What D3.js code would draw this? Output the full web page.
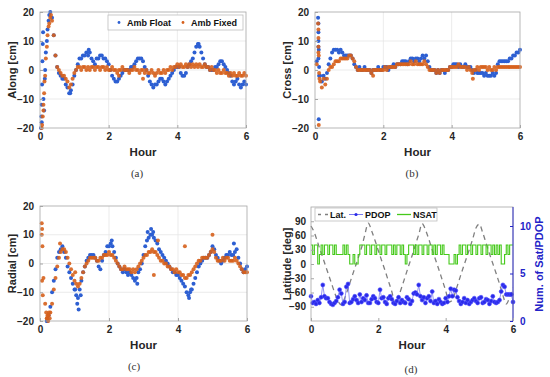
<!DOCTYPE html>
<html>
<head>
<meta charset="utf-8">
<script src="https://cdn.jsdelivr.net/npm/d3@7"></script>
<style>
body { margin: 0; background: #fff; }
text { font-family: "Liberation Sans", Arial, sans-serif; }
</style>
</head>
<body>
<div class="fig"></div>
<script>
// sampling grid (hours)
const hours = d3.range(1, 121).map(i => +(i * 0.05).toFixed(2));   // 0.05 .. 6.00
const hoursD = d3.range(0, 121).map(i => +(i * 0.05).toFixed(2));  // 0 .. 6.00
const hoursLat = d3.range(0, 61).map(i => +(i * 0.1).toFixed(1));  // 0 .. 6.0

const hourTicks = [0, 2, 4, 6];
const cmTicks = [-20, -10, 0, 10, 20];
const latTicks = [-90, -60, -30, 0, 30, 60, 90];
const satTicks = [0, 5, 10];
const legendAB = ['Amb Float', 'Amb Fixed'];
const legendD = ['Lat.', 'PDOP', 'NSAT'];

// (a) along-track [cm]
const alongFloat = [
  -18,-10,0,10,17,20,18,12,5,1,
  -1,-2,-3,-3,-5,-6,-8,-7,-5,-2,
  0,2,4,4,5,5,6,5,6,4,
  3,2,4,4,5,5,4,4,3,2,
  0,-2,-3,-4,-4,-3,-2,-1,0,0,
  0,0,1,1,2,3,4,4,4,3,
  1,0,-2,-4,-5,-6,-5,-5,-4,-3,
  -3,-4,-5,-4,-3,-2,-1,0,1,1,
  1,-1,-2,-2,-1,1,2,3,4,6,
  8,9,8,6,4,2,1,1,0,0,
  0,1,1,2,3,3,2,1,0,-1,
  -2,-4,-5,-4,-3,-5,-6,-5,-4,-5];
const alongFixed = [
  -20,-12,-2,8,15,18,17,12,5,1,
  0,-1,-2,-2,-3,-4,-6,-5,-3,-1,
  0,1,1,0,1,1,0,1,0,1,
  1,0,1,1,0,1,1,0,1,0,
  0,1,0,0,-1,0,0,1,0,0,
  0,-1,0,0,1,0,0,-1,0,0,
  -1,0,-1,-1,0,-1,-2,-1,0,-1,
  -1,0,-1,0,0,1,0,1,1,2,
  1,2,1,1,2,1,2,1,2,1,
  2,1,2,1,1,2,1,1,0,1,
  0,0,-1,0,-1,-1,0,-1,-1,-2,
  -1,-2,-1,-2,-2,-1,-2,-2,-1,-2];
const alongFloatStart = [[0.03,-20],[0.04,-16],[0.05,-12],[0.06,-5],[0.07,3],[0.08,9],[0.09,13],[0.12,-14],[0.14,-3],[0.17,6],[0.22,14],[0.27,19],[0.88,-8],[1.42,7],[4.62,9]];
const alongFixedStart = [[0.06,-19],[0.08,-16],[0.1,-14],[0.12,-8],[0.13,-4],[0.17,4],[0.22,12],[0.27,16],[0.32,19],[3.0,-3],[2.3,-2]];

// (b) cross-track [cm]
const crossFloat = [
  3,8,-2,-4,-2,-3,-1,2,4,6,
  7,7,7,6,7,6,5,5,5,5,
  5,4,2,1,0,1,0,0,1,0,
  0,0,-1,0,0,0,1,0,0,1,
  1,1,0,1,1,2,1,2,2,2,
  3,3,3,2,3,4,4,3,4,4,
  3,4,5,4,5,3,1,0,0,0,
  -1,0,-1,0,0,-1,0,0,1,1,
  2,2,2,1,2,1,1,2,1,1,
  1,0,-1,0,-1,-1,-1,-1,-2,-1,
  -2,-2,-2,-1,-2,-1,2,3,3,3,
  3,3,3,4,4,5,5,6,6,7];
const crossFixed = [
  2,6,-4,-6,-3,-5,-3,0,1,1,
  2,3,3,3,4,4,4,4,4,5,
  5,4,3,1,0,0,0,0,0,0,
  0,0,-1,0,0,0,0,0,0,0,
  1,0,1,1,1,1,1,2,2,2,
  2,2,2,2,2,3,2,2,3,2,
  2,2,2,3,2,1,0,0,0,0,
  -1,0,-1,0,0,0,0,0,1,1,
  1,1,1,2,1,1,1,1,0,1,
  0,-1,0,0,1,0,1,1,1,1,
  0,1,0,0,1,0,1,1,1,1,
  1,1,1,1,1,1,1,1,1,1];
const crossFloatStart = [[0.09,18],[0.1,16],[0.1,13],[0.1,10],[0.11,7],[0.1,4],[0.11,-17],[0.12,-2],[0.12,1]];
const crossFixedStart = [[0.09,16],[0.1,14],[0.1,11],[0.1,8],[0.11,5],[0.11,-19],[0.12,-1],[0.13,-3],[4.62,-3],[1.7,-2]];

// (c) radial [cm]
const radialFloat = [
  null,null,null,-20,-18,-15,-10,-6,-2,2,
  4,5,6,4,2,-1,-3,-5,-7,-9,
  -11,-12,-9,-6,-3,-1,1,2,3,3,
  3,2,1,-1,-2,1,3,4,6,6,
  7,6,4,2,0,-1,-2,-3,-2,-3,
  -4,-3,-4,-5,-6,-5,-3,-2,0,3,
  6,8,9,10,10,9,8,7,5,4,
  3,2,1,0,-1,-2,-3,-3,-4,-4,
  -5,-6,-7,-8,-10,-11,-10,-9,-7,-5,
  -3,-1,0,1,2,2,2,3,4,6,
  5,3,2,1,0,1,2,3,3,4,
  3,3,4,5,2,0,-2,-3,-2,-1];
const radialFixed = [
  10,-5,-14,-19,-18,-17,-14,-9,-5,-1,
  2,4,5,5,4,2,0,-2,-4,-6,
  -7,-8,-7,-5,-3,-1,0,1,2,2,
  2,2,1,1,2,2,3,3,3,4,
  3,3,2,1,0,-1,-2,-2,-1,-2,
  -2,-2,-3,-2,-3,-2,-1,0,1,2,
  3,3,4,4,5,4,4,3,2,1,
  1,0,0,-1,-1,-2,-2,-3,-2,-3,
  -3,-4,-4,-5,-5,-4,-4,-3,-2,-1,
  0,1,1,2,2,2,2,3,4,5,
  4,2,1,1,1,2,1,2,2,1,
  1,1,2,1,0,-1,-2,-3,-3,-3];
const radialFloatStart = [[0.2,-20],[0.22,-19],[1.02,-9],[1.08,-14],[1.12,-16],[1.18,-11],[3.12,11],[3.22,12],[3.28,11],[4.32,-12],[4.38,-9],[2.08,8],[2.82,-7],[5.62,7]];
const radialFixedStart = [[0.05,14],[0.06,12],[0.07,6],[0.06,-6],[0.08,-11],[0.18,-17],[0.2,-19],[0.22,-18],[0.24,-20],[0.26,-17],[0.28,-19],[5.0,10],[4.2,6],[3.3,-4],[3.42,8],[0.58,7],[1.02,-3]];

// (d) satellite latitude [deg], NSAT and PDOP
const latitude = [
  80,66,45,24,3,-18,-39,-60,-78,-86,
  -72,-52,-30,-9,12,34,62,86,70,50,
  28,7,-14,-36,-58,-84,-68,-48,-26,-4,
  17,40,62,85,72,52,30,9,-12,-34,
  -56,-80,-76,-56,-34,-12,9,30,52,76,
  84,66,44,22,1,-20,-42,-66,-84,-70,
  -50];
const nsat = [
  8,7,8,8,6,7,8,7,8,8,
  7,8,8,7,8,7,7,7,7,8,
  7,8,7,6,6,7,6,6,7,8,
  8,8,7,8,8,7,8,8,7,8,
  8,7,8,8,7,8,8,8,7,8,
  7,8,8,7,8,7,6,7,8,8,
  8,7,8,7,8,8,7,8,8,7,
  8,8,7,8,7,8,8,7,8,7,
  7,7,6,6,6,7,6,7,8,7,
  8,8,7,8,8,7,8,8,7,8,
  8,7,8,8,7,8,8,7,8,7,
  8,7,8,6,6,7,8,7,8,8,
  8];
const pdop = [
  2.6,1.9,2.0,1.8,2.2,1.9,2.5,3.8,2.6,2.4,
  2.4,2.0,1.8,1.7,1.9,2.1,2.5,3.3,2.9,1.8,
  2.0,3.6,3.9,1.9,2.0,2.3,2.6,2.2,1.9,2.8,
  2.0,2.4,2.2,2.7,1.9,1.9,2.3,2.6,2.4,2.0,
  1.9,3.3,2.4,2.5,2.0,1.8,2.4,2.6,2.3,1.9,
  1.8,2.1,2.5,1.9,2.2,2.0,1.9,2.5,2.3,1.8,
  2.1,2.9,3.0,2.8,3.8,2.6,2.2,2.5,1.9,2.4,
  2.6,2.1,3.1,1.9,2.1,1.8,2.3,2.0,1.8,1.9,
  2.4,2.0,2.6,3.4,2.6,3.3,3.2,2.5,2.1,1.8,
  2.0,2.4,1.9,2.2,1.8,2.0,2.2,2.4,2.1,1.9,
  2.4,2.5,1.9,2.0,2.3,2.2,1.8,2.1,2.6,2.0,
  1.9,2.0,2.2,3.1,3.8,3.6,2.8,2.8,2.8,2.8,
  2.0];

const floatColor = '#2d5fd2';
const fixedColor = '#d6601c';
const boxColor = '#a6a6a6';
const tickColor = '#262626';
const blueAxis = '#2323c8';

const svg = d3.select('.fig')
  .append('svg')
  .attr('width', 550)
  .attr('height', 377)
  .style('background', '#fff');

function styleAxis(g, color) {
  g.select('.domain').remove();
  g.selectAll('line').attr('stroke', color || boxColor);
  g.selectAll('text')
    .attr('font-size', '10px')
    .attr('font-weight', 'bold')
    .attr('fill', color || tickColor)
    .style('font-family', '"Liberation Sans", Arial, sans-serif');
}

function toPairs(vals, hs) {
  return vals.map((v, i) => [hs[i], v]).filter(d => d[1] !== null);
}

function scatterPanel(p) {
  const x = d3.scaleLinear().domain([0, 6]).range([p.x0, p.x1]);
  const y = d3.scaleLinear().domain([-20, 20]).range([p.y1, p.y0]);
  const g = svg.append('g');

  // grid
  g.selectAll('line.gx').data(hourTicks.slice(1, -1)).enter().append('line')
    .attr('x1', d => x(d)).attr('x2', d => x(d))
    .attr('y1', p.y0).attr('y2', p.y1)
    .attr('stroke', '#e6e6e6').attr('stroke-width', 0.8);
  g.selectAll('line.gy').data(cmTicks.slice(1, -1)).enter().append('line')
    .attr('x1', p.x0).attr('x2', p.x1)
    .attr('y1', d => y(d)).attr('y2', d => y(d))
    .attr('stroke', '#e6e6e6').attr('stroke-width', 0.8);

  const fl = toPairs(p.float, hours).concat(p.floatStart);
  const fx = toPairs(p.fixed, hours).concat(p.fixedStart);

  g.selectAll('circle.fl').data(fl).enter().append('circle')
    .attr('cx', d => x(d[0])).attr('cy', d => y(d[1]))
    .attr('r', 2).attr('fill', floatColor);
  g.selectAll('circle.fx').data(fx).enter().append('circle')
    .attr('cx', d => x(d[0])).attr('cy', d => y(d[1]))
    .attr('r', 2).attr('fill', fixedColor).attr('opacity', 0.9);

  g.append('rect')
    .attr('x', p.x0).attr('y', p.y0)
    .attr('width', p.x1 - p.x0).attr('height', p.y1 - p.y0)
    .attr('fill', 'none').attr('stroke', boxColor).attr('stroke-width', 0.8);

  g.append('g').attr('transform', `translate(0,${p.y1})`)
    .call(d3.axisBottom(x).tickValues(hourTicks).tickSize(-3).tickPadding(5).tickFormat(d3.format('d')))
    .call(styleAxis);
  g.append('g').attr('transform', `translate(${p.x0},0)`)
    .call(d3.axisLeft(y).tickValues(cmTicks).tickSize(-3).tickPadding(6).tickFormat(d3.format('d')))
    .call(styleAxis);

  g.append('text')
    .attr('transform', `translate(${p.labelX},${(p.y0 + p.y1) / 2}) rotate(-90)`)
    .attr('text-anchor', 'middle').attr('dominant-baseline', 'central')
    .attr('font-size', '11px').attr('font-weight', 'bold').attr('fill', tickColor)
    .text(p.label);
  g.append('text')
    .attr('x', (p.x0 + p.x1) / 2).attr('y', p.y1 + 24)
    .attr('text-anchor', 'middle').attr('dominant-baseline', 'central')
    .attr('font-size', '11.5px').attr('font-weight', 'bold').attr('fill', tickColor)
    .text('Hour');
  g.append('text')
    .attr('x', p.capX).attr('y', p.y1 + 45)
    .attr('text-anchor', 'middle').attr('dominant-baseline', 'central')
    .attr('font-size', '11px').attr('fill', '#333')
    .style('font-family', '"Liberation Serif", "Times New Roman", serif')
    .text(p.caption);
  return g;
}

const ga = scatterPanel({x0: 40, x1: 246, y0: 12, y1: 128, label: 'Along [cm]', labelX: 12,
  caption: '(a)', capX: 137, float: alongFloat, fixed: alongFixed,
  floatStart: alongFloatStart, fixedStart: alongFixedStart});
scatterPanel({x0: 315, x1: 520, y0: 12, y1: 128, label: 'Cross [cm]', labelX: 287,
  caption: '(b)', capX: 412, float: crossFloat, fixed: crossFixed,
  floatStart: crossFloatStart, fixedStart: crossFixedStart});
scatterPanel({x0: 40, x1: 247, y0: 206, y1: 321, label: 'Radial [cm]', labelX: 12,
  caption: '(c)', capX: 134, float: radialFloat, fixed: radialFixed,
  floatStart: radialFloatStart, fixedStart: radialFixedStart});

// legend (a)
const lg = ga.append('g');
lg.append('rect').attr('x', 108).attr('y', 15).attr('width', 135).attr('height', 15)
  .attr('fill', '#fff').attr('stroke', '#bdbdbd').attr('stroke-width', 0.8);
lg.selectAll('circle').data(legendAB).enter().append('circle')
  .attr('cx', (d, i) => 119 + i * 64).attr('cy', 22.5).attr('r', 1.4)
  .attr('fill', (d, i) => i == 0 ? floatColor : fixedColor);
lg.selectAll('text').data(legendAB).enter().append('text')
  .attr('x', (d, i) => 127 + i * 64).attr('y', 22.5)
  .attr('dominant-baseline', 'central')
  .attr('font-size', '9px').attr('font-weight', 'bold').attr('fill', '#111')
  .text(d => d);

// (d)
const dp = {x0: 311, x1: 513, y0: 207, y1: 321};
const xd = d3.scaleLinear().domain([0, 6]).range([dp.x0, dp.x1]);
const yl = d3.scaleLinear().domain([-120, 120]).range([dp.y1, dp.y0]);
const yr = d3.scaleLinear().domain([0, 12]).range([dp.y1, dp.y0]);
const gd = svg.append('g');

gd.append('path')
  .datum(latitude.map((v, i) => [hoursLat[i], v]))
  .attr('d', d3.line().x(d => xd(d[0])).y(d => yl(d[1])).curve(d3.curveMonotoneX))
  .attr('fill', 'none').attr('stroke', '#7f7f7f').attr('stroke-width', 1.3)
  .attr('stroke-dasharray', '5,4');

gd.append('path')
  .datum(pdop.map((v, i) => [hoursD[i], v]))
  .attr('d', d3.line().x(d => xd(d[0])).y(d => yr(d[1])))
  .attr('fill', 'none').attr('stroke', '#7a7af0').attr('stroke-width', 0.8);
gd.selectAll('circle.pd').data(pdop).enter().append('circle')
  .attr('cx', (d, i) => xd(hoursD[i])).attr('cy', d => yr(d))
  .attr('r', 2).attr('fill', '#2a2ae8').attr('stroke', '#4b4bff').attr('stroke-width', 0.6);

gd.append('path')
  .datum(nsat.map((v, i) => [hoursD[i], v]))
  .attr('d', d3.line().x(d => xd(d[0])).y(d => yr(d[1])).curve(d3.curveStepAfter))
  .attr('fill', 'none').attr('stroke', '#45c91a').attr('stroke-width', 1.1);

gd.append('rect')
  .attr('x', dp.x0).attr('y', dp.y0)
  .attr('width', dp.x1 - dp.x0).attr('height', dp.y1 - dp.y0)
  .attr('fill', 'none').attr('stroke', boxColor).attr('stroke-width', 0.8);
gd.append('line').attr('x1', dp.x1).attr('x2', dp.x1).attr('y1', dp.y0).attr('y2', dp.y1)
  .attr('stroke', blueAxis).attr('stroke-width', 0.9);

gd.append('g').attr('transform', `translate(0,${dp.y1})`)
  .call(d3.axisBottom(xd).tickValues(hourTicks).tickSize(-3).tickPadding(5).tickFormat(d3.format('d')))
  .call(styleAxis);
gd.append('g').attr('transform', `translate(${dp.x0},0)`)
  .call(d3.axisLeft(yl).tickValues(latTicks).tickSize(-3).tickPadding(5).tickFormat(d3.format('d')))
  .call(styleAxis);
gd.append('g').attr('transform', `translate(${dp.x1},0)`)
  .call(d3.axisRight(yr).tickValues(satTicks).tickSize(-3).tickPadding(7).tickFormat(d3.format('d')))
  .call(g => styleAxis(g, blueAxis));

gd.append('text')
  .attr('transform', `translate(287,${(dp.y0 + dp.y1) / 2}) rotate(-90)`)
  .attr('text-anchor', 'middle').attr('dominant-baseline', 'central')
  .attr('font-size', '11px').attr('font-weight', 'bold').attr('fill', tickColor)
  .text('Latitude [deg]');
gd.append('text')
  .attr('transform', `translate(539,${(dp.y0 + dp.y1) / 2}) rotate(-90)`)
  .attr('text-anchor', 'middle').attr('dominant-baseline', 'central')
  .attr('font-size', '11px').attr('font-weight', 'bold').attr('fill', blueAxis)
  .text('Num. of Sat/PDOP');
gd.append('text')
  .attr('x', (dp.x0 + dp.x1) / 2).attr('y', dp.y1 + 24)
  .attr('text-anchor', 'middle').attr('dominant-baseline', 'central')
  .attr('font-size', '11.5px').attr('font-weight', 'bold').attr('fill', tickColor)
  .text('Hour');
gd.append('text')
  .attr('x', 411).attr('y', dp.y1 + 48)
  .attr('text-anchor', 'middle').attr('dominant-baseline', 'central')
  .attr('font-size', '11px').attr('fill', '#333')
  .style('font-family', '"Liberation Serif", "Times New Roman", serif')
  .text('(d)');

// legend (d)
const ld = gd.append('g');
ld.append('rect').attr('x', 315).attr('y', 208).attr('width', 122).attr('height', 13)
  .attr('fill', '#fff').attr('stroke', '#bdbdbd').attr('stroke-width', 0.8);
ld.append('line').attr('x1', 318).attr('x2', 328).attr('y1', 214.5).attr('y2', 214.5)
  .attr('stroke', '#7f7f7f').attr('stroke-width', 1.3).attr('stroke-dasharray', '3,4');
ld.append('line').attr('x1', 349).attr('x2', 363).attr('y1', 214.5).attr('y2', 214.5)
  .attr('stroke', '#7a7af0').attr('stroke-width', 1);
ld.append('circle').attr('cx', 356).attr('cy', 214.5).attr('r', 1.6).attr('fill', '#2a2ae8');
ld.append('line').attr('x1', 397).attr('x2', 411).attr('y1', 214.5).attr('y2', 214.5)
  .attr('stroke', '#45c91a').attr('stroke-width', 1.3);
ld.selectAll('text').data(legendD).enter().append('text')
  .attr('x', (d, i) => [330, 365, 413][i]).attr('y', 214.5)
  .attr('dominant-baseline', 'central')
  .attr('font-size', '9px').attr('font-weight', 'bold').attr('fill', '#111')
  .text(d => d);
</script>
</body>
</html>
